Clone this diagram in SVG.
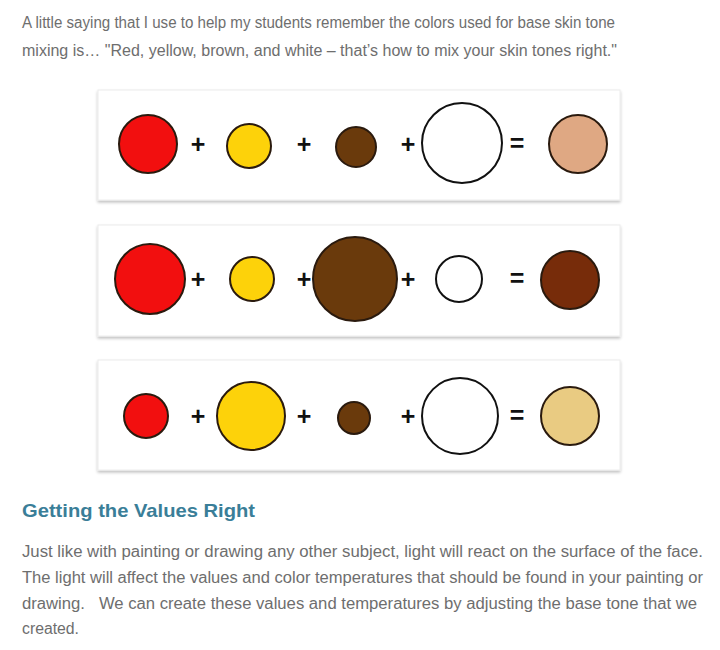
<svg xmlns="http://www.w3.org/2000/svg" width="720" height="650" viewBox="0 0 720 650">
  <defs>
    <filter id="sh" x="-5%" y="-10%" width="110%" height="125%">
      <feGaussianBlur in="SourceAlpha" stdDeviation="1.5"/>
      <feOffset dx="0" dy="1.5" result="b"/>
      <feComponentTransfer><feFuncA type="linear" slope="0.25"/></feComponentTransfer>
      <feMerge><feMergeNode/><feMergeNode in="SourceGraphic"/></feMerge>
    </filter>
  </defs>
  <style>
    .txt { font-family: "Liberation Sans", Arial, sans-serif; font-size: 16px; fill: #6e6e6e; }
    .head { font-family: "Liberation Sans", Arial, sans-serif; font-size: 19px; font-weight: bold; fill: #3a7e98; }
    .panel { fill: #ffffff; stroke: #ececec; stroke-width: 1; }
    .c { stroke: #2a1a0e; stroke-width: 2; }
    .red { fill: #f20f0f; }
    .yel { fill: #fdd20a; }
    .brn { fill: #6a3a0c; }
    .wht { fill: #ffffff; stroke: #111111; }
    .skin { fill: #dfa883; }
    .dark { fill: #772c0a; }
    .tan { fill: #e9cb82; }
    .op { font-family: "Liberation Sans", Arial, sans-serif; font-size: 25px; font-weight: bold; fill: #111111; text-anchor: middle; }
  </style>
  <rect width="720" height="650" fill="#ffffff"/>

  <g id="intro">
    <text class="txt" x="22" y="28" textLength="593" lengthAdjust="spacingAndGlyphs">A little saying that I use to help my students remember the colors used for base skin tone</text>
    <text class="txt" x="22" y="56" textLength="595" lengthAdjust="spacingAndGlyphs">mixing is… "Red, yellow, brown, and white – that’s how to mix your skin tones right."</text>
  </g>

  <g id="row1">
    <rect class="panel" x="98" y="90" width="522" height="110" filter="url(#sh)"/>
    <circle class="c red" cx="148" cy="144" r="29"/>
    <text class="op" x="198" y="153">+</text>
    <circle class="c yel" cx="249" cy="146" r="22"/>
    <text class="op" x="304" y="153">+</text>
    <circle class="c brn" cx="356" cy="147" r="20"/>
    <text class="op" x="408" y="153">+</text>
    <circle class="c wht" cx="462" cy="143" r="40"/>
    <text class="op" x="517" y="152">=</text>
    <circle class="c skin" cx="578" cy="144" r="29"/>
  </g>

  <g id="row2">
    <rect class="panel" x="98" y="225" width="522" height="111" filter="url(#sh)"/>
    <circle class="c red" cx="150" cy="279" r="35"/>
    <text class="op" x="198" y="288">+</text>
    <circle class="c yel" cx="252" cy="279" r="22"/>
    <text class="op" x="304" y="288">+</text>
    <circle class="c brn" cx="355" cy="279" r="42"/>
    <text class="op" x="408" y="288">+</text>
    <circle class="c wht" cx="459" cy="279" r="23"/>
    <text class="op" x="517" y="287">=</text>
    <circle class="c dark" cx="570" cy="280" r="29"/>
  </g>

  <g id="row3">
    <rect class="panel" x="98" y="360" width="522" height="110" filter="url(#sh)"/>
    <circle class="c red" cx="146" cy="416" r="22"/>
    <text class="op" x="198" y="425">+</text>
    <circle class="c yel" cx="251" cy="416" r="34"/>
    <text class="op" x="304" y="425">+</text>
    <circle class="c brn" cx="354" cy="418" r="16"/>
    <text class="op" x="408" y="425">+</text>
    <circle class="c wht" cx="460" cy="416" r="38"/>
    <text class="op" x="517" y="424">=</text>
    <circle class="c tan" cx="570" cy="416" r="29"/>
  </g>

  <g id="section">
    <text class="head" x="22" y="517" textLength="233" lengthAdjust="spacingAndGlyphs">Getting the Values Right</text>
    <text class="txt" x="22" y="557" textLength="681" lengthAdjust="spacingAndGlyphs">Just like with painting or drawing any other subject, light will react on the surface of the face.</text>
    <text class="txt" x="22" y="583" textLength="681" lengthAdjust="spacingAndGlyphs">The light will affect the values and color temperatures that should be found in your painting or</text>
    <text class="txt" x="22" y="609" textLength="675" lengthAdjust="spacingAndGlyphs" xml:space="preserve">drawing.   We can create these values and temperatures by adjusting the base tone that we</text>
    <text class="txt" x="22" y="634" textLength="57" lengthAdjust="spacingAndGlyphs">created.</text>
  </g>
</svg>
